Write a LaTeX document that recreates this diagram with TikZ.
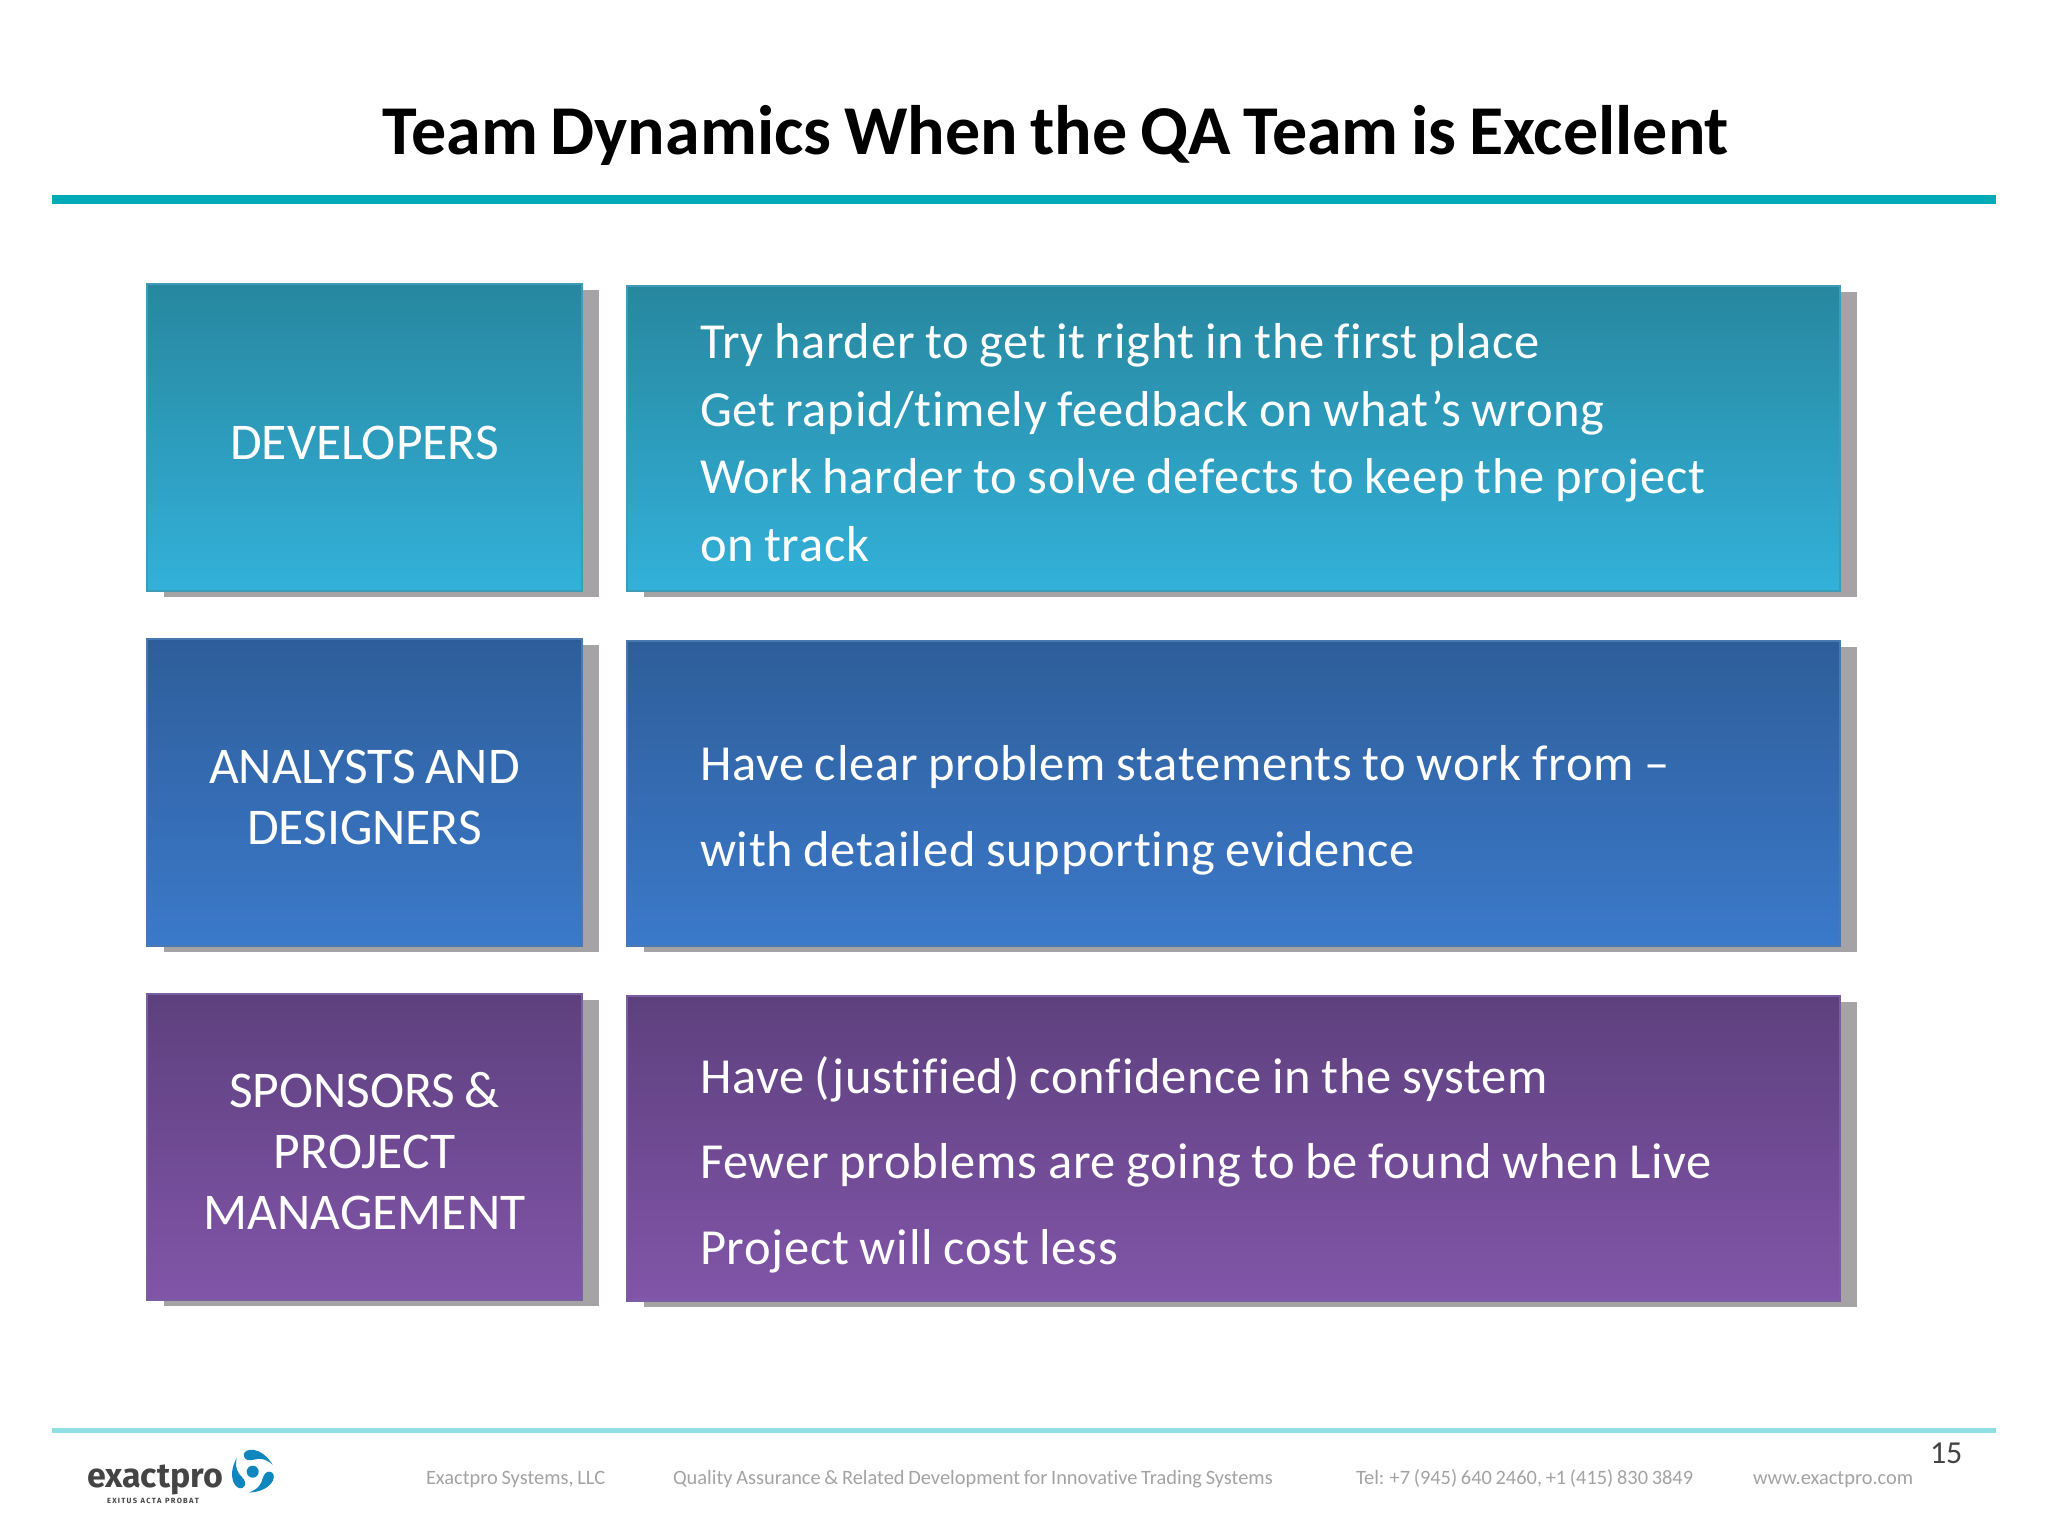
\documentclass[tikz,border=0pt]{standalone}
\usepackage{fontspec}
\setmainfont{Carlito}[Ligatures=NoCommon, WordSpace=0.8]
\newfontfamily\dutyfont{Carlito}[Ligatures=NoCommon, WordSpace=0.85, LetterSpace=1.5]
\newfontfamily\logofont{Fira Sans}
\usetikzlibrary{shadows}
\begin{document}
\begin{tikzpicture}[x=1pt,y=-1pt]
    \tikzset{every node/.style={inner sep=0pt, outer sep=0pt}}
    \tikzset{panel/.style={anchor=north west, line width=1.2pt, copy shadow={shadow xshift=16.5pt, shadow yshift=-6pt, fill=shadowgray, draw=none}}}
    \tikzset{rolebox/.style={panel, minimum width=435pt, minimum height=307pt}}
    \tikzset{dutybox/.style={panel, minimum width=1213pt, minimum height=305pt}}
    \tikzset{role/.style={text=white, align=center, font=\fontsize{51.5}{61.4}\selectfont}}
    \tikzset{duty/.style={text=white, anchor=west, align=left, font=\fontsize{50.5}{85.5}\selectfont\dutyfont}}
    \tikzset{devcol/.style={draw=devline, top color=devtop, bottom color=devbot}}
    \tikzset{anacol/.style={draw=analine, top color=anatop, bottom color=anabot}}
    \tikzset{spocol/.style={draw=spoline, top color=spotop, bottom color=spobot}}
    \tikzset{foot/.style={anchor=base west, text=footgray, font=\fontsize{20.4}{24}\selectfont}}
    \definecolor{shadowgray}{HTML}{A5A3A5}
    \definecolor{devtop}{HTML}{27879F}
    \definecolor{devbot}{HTML}{33B1DA}
    \definecolor{devline}{HTML}{3E9CB8}
    \definecolor{anatop}{HTML}{2E5E9A}
    \definecolor{anabot}{HTML}{3B79CA}
    \definecolor{analine}{HTML}{4A78B0}
    \definecolor{spotop}{HTML}{5E407E}
    \definecolor{spobot}{HTML}{8155A9}
    \definecolor{spoline}{HTML}{7A5FA0}
    \definecolor{toprule}{HTML}{00ABB8}
    \definecolor{botrule}{HTML}{90DFE3}
    \definecolor{footgray}{HTML}{A3A3A3}
    \definecolor{logoblue}{HTML}{0F86BE}
    \definecolor{logogray}{HTML}{444444}
    \useasboundingbox (0,0) rectangle (2048,1536);

    \node[anchor=base, font=\fontsize{70}{74}\selectfont\bfseries] (title) at (1056,155) {Team Dynamics When the QA Team is Excellent};
    \coordinate (ruleAl) at (52,199);
    \coordinate (ruleAr) at (1996,199);
    \coordinate (ruleBl) at (52,1430);
    \coordinate (ruleBr) at (1996,1430);
    \draw[toprule, line width=9pt] (ruleAl) -- (ruleAr);
    \draw[botrule, line width=5pt] (ruleBl) -- (ruleBr);

    \node[rolebox, devcol] (dev) at (147,284) {};
    \node[rolebox, anacol] (ana) at (147,639) {};
    \node[rolebox, spocol, minimum height=306pt] (spo) at (147,994) {};
    \node[dutybox, devcol] (devright) at (627,286) {};
    \node[dutybox, anacol] (anaright) at (627,641) {};
    \node[dutybox, spocol] (sporight) at (627,996) {};

    \node[role] (devlabel) at ([yshift=-5pt]dev.center) {DEVELOPERS};
    \node[role] (analabel) at ([yshift=-5pt]ana.center) {ANALYSTS AND\\DESIGNERS};
    \node[role] (spolabel) at ([yshift=-4pt]spo.center) {SPONSORS \&\\PROJECT\\MANAGEMENT};

    \node[duty, font=\fontsize{50.5}{67.5}\selectfont\dutyfont] (devtext) at ([xshift=73pt,yshift=-4pt]devright.west) {Try harder to get it right in the first place\\Get rapid/timely feedback on what’s wrong\\Work harder to solve defects to keep the project\\on track};
    \node[duty] (anatext) at ([xshift=73pt,yshift=-17pt]anaright.west) {Have clear problem statements to work from –\\with detailed supporting evidence};
    \node[duty] (spotext) at ([xshift=73pt,yshift=-16pt]sporight.west) {Have (justified) confidence in the system\\Fewer problems are going to be found when Live\\Project will cost less};

    \node[anchor=base west, text=logogray, font=\fontsize{34}{40}\selectfont\logofont\bfseries] (logo) at (87,1487) {exactpro};
    \node[anchor=base, text=logogray, font=\fontsize{7.5}{9}\selectfont\logofont\bfseries] (motto) at (153,1503) {E\,X\,I\,T\,U\,S\ \ A\,C\,T\,A\ \ P\,R\,O\,B\,A\,T};
    \fill[logoblue] (252.7,1471.7) circle (6);
    \foreach \a in {0,120,240} {
        \begin{scope}[shift={(252.7,1471.7)}, rotate=\a]
            \fill[logoblue] (-9,-17) .. controls (-8,-24) and (8,-26) .. (20,-7) .. controls (13,-13) and (7,-14) .. (1,-12) .. controls (-3,-11) and (-9,-11) .. (-9,-17);
        \end{scope}
    }

    \node[foot] (firm) at (426,1484) {Exactpro Systems, LLC};
    \node[foot] (claim) at (673,1484) {Quality Assurance \& Related Development for Innovative Trading Systems};
    \node[foot] (phone) at (1356,1484) {Tel: +7 (945) 640 2460, +1 (415) 830 3849};
    \node[foot] (web) at (1753,1484) {www.exactpro.com};
    \node[anchor=base west, text=logogray, font=\fontsize{32}{36}\selectfont] (page) at (1930,1463) {15};
\end{tikzpicture}
\end{document}
